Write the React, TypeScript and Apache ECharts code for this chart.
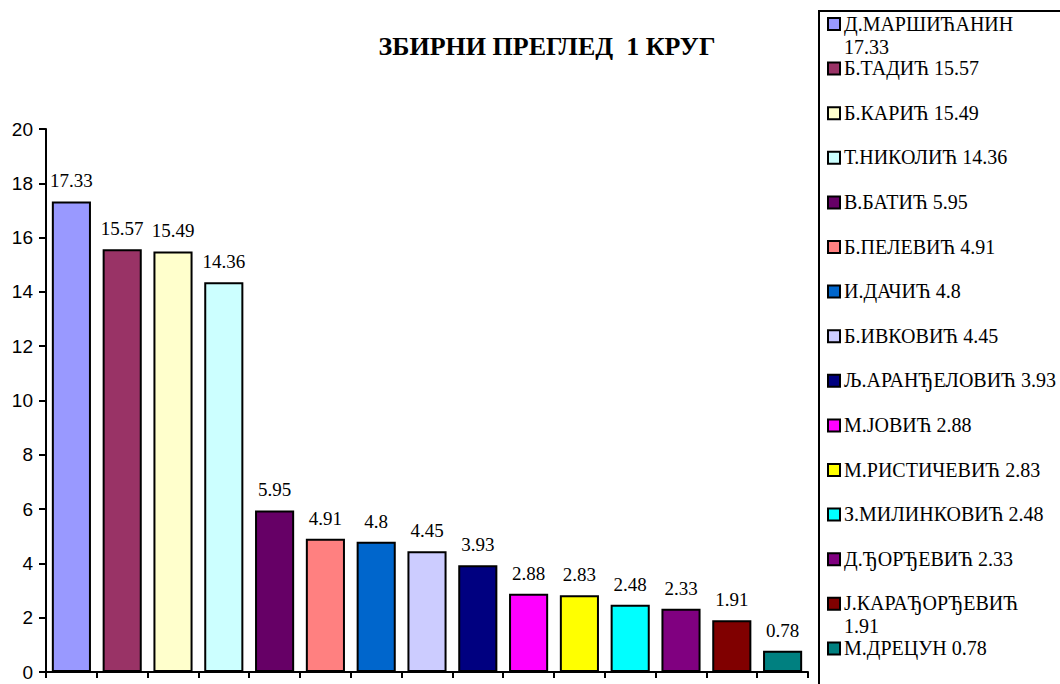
import React, { useEffect, useRef } from "react";
import * as echarts from "echarts";

// Candidates and first-round totals
const candidates = [
  "Д.МАРШИЋАНИН",
  "Б.ТАДИЋ",
  "Б.КАРИЋ",
  "Т.НИКОЛИЋ",
  "В.БАТИЋ",
  "Б.ПЕЛЕВИЋ",
  "И.ДАЧИЋ",
  "Б.ИВКОВИЋ",
  "Љ.АРАНЂЕЛОВИЋ",
  "М.ЈОВИЋ",
  "М.РИСТИЧЕВИЋ",
  "З.МИЛИНКОВИЋ",
  "Д.ЂОРЂЕВИЋ",
  "Ј.КАРАЂОРЂЕВИЋ",
  "М.ДРЕЦУН",
];
const values = [17.33, 15.57, 15.49, 14.36, 5.95, 4.91, 4.8, 4.45, 3.93, 2.88, 2.83, 2.48, 2.33, 1.91, 0.78];
const colors = [
  "#9999FF", "#993366", "#FFFFCC", "#CCFFFF", "#660066",
  "#FF8080", "#0066CC", "#CCCCFF", "#000080", "#FF00FF",
  "#FFFF00", "#00FFFF", "#800080", "#800000", "#008080",
];
const yTicks = { min: 0, max: 20, step: 2 };
const titleText = "ЗБИРНИ ПРЕГЛЕД  1 КРУГ";

const SERIF = "Liberation Serif";
const SANS = "Liberation Sans";
const LEGEND_FONT = 20;

// Legend entries move the value to a second line when the line is too wide
function legendLabel(name: string, value: number, maxWidth: number): string {
  const full = `${name} ${value}`;
  const canvas = document.createElement("canvas");
  const ctx = canvas.getContext("2d");
  if (!ctx) return full;
  ctx.font = `${LEGEND_FONT}px "${SERIF}"`;
  return ctx.measureText(full).width > maxWidth ? `${name}\n${value}` : full;
}

export default function App() {
  const ref = useRef<HTMLDivElement>(null);

  useEffect(() => {
    if (!ref.current) return;
    const chart = echarts.init(ref.current, null, { renderer: "svg" });

    const legendTop = 24;
    const legendStep = 44.6;
    const legendItems: any[] = [];
    candidates.forEach((name, i) => {
      const cy = legendTop + i * legendStep;
      legendItems.push({
        type: "rect",
        shape: { x: 828, y: cy - 6, width: 12, height: 12 },
        style: { fill: colors[i], stroke: "#000", lineWidth: 2 },
      });
      legendItems.push({
        type: "text",
        x: 844,
        y: cy - 12,
        style: {
          text: legendLabel(name, values[i], 212),
          fontFamily: SERIF,
          fontSize: LEGEND_FONT,
          fill: "#000",
          lineHeight: 23,
          verticalAlign: "top",
          align: "left",
        },
      });
    });

    chart.setOption({
      animation: false,
      backgroundColor: "#fff",
      title: {
        text: titleText,
        left: 547,
        top: 33,
        textAlign: "center",
        padding: 0,
        textStyle: { fontFamily: SERIF, fontSize: 26, fontWeight: "bold", color: "#000" },
      },
      grid: { left: 46, right: 252, top: 129, bottom: 12, containLabel: false },
      xAxis: {
        type: "category",
        data: candidates,
        boundaryGap: true,
        axisLine: { lineStyle: { color: "#000", width: 2 } },
        axisTick: { show: true, alignWithLabel: false, interval: 0, length: 6, lineStyle: { color: "#000", width: 2 } },
        axisLabel: { show: false },
        splitLine: { show: false },
      },
      yAxis: {
        type: "value",
        min: yTicks.min,
        max: yTicks.max,
        interval: yTicks.step,
        axisLine: { show: true, lineStyle: { color: "#000", width: 2 } },
        axisTick: { show: true, length: 7, lineStyle: { color: "#000", width: 2 } },
        axisLabel: { color: "#000", fontFamily: SANS, fontSize: 19, margin: 13 },
        splitLine: { show: false },
      },
      series: [
        {
          type: "bar",
          barCategoryGap: "23%",
          data: values.map((v, i) => ({
            value: v,
            itemStyle: { color: colors[i], borderColor: "#000", borderWidth: 2 },
          })),
          label: {
            show: true,
            position: "top",
            distance: 11,
            formatter: "{c}",
            color: "#000",
            fontFamily: SERIF,
            fontSize: 19,
          },
        },
      ],
      graphic: [
        {
          type: "rect",
          shape: { x: 819, y: 11, width: 260, height: 700 },
          style: { fill: "none", stroke: "#000", lineWidth: 2 },
        },
        ...legendItems,
      ],
    });

    return () => chart.dispose();
  }, []);

  return (
    <div
      ref={ref}
      style={{ position: "fixed", left: 0, top: 0, width: 1060, height: 684, background: "#fff" }}
    />
  );
}
